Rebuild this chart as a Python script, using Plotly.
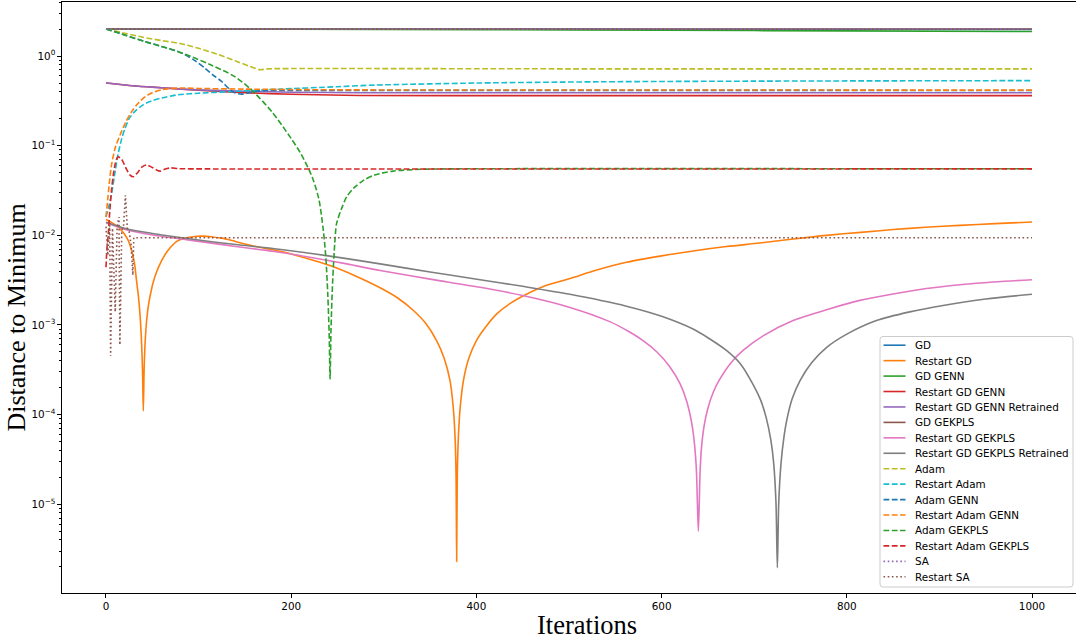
import plotly.graph_objects as go

# ---- optimisation runs: iteration index and distance to the minimum ----
gd_it = [0, 250, 500, 750, 1000]
gd_val = [2.0, 2.0, 1.995, 1.99, 1.985]

restart_gd_it = [0, 8, 15, 20, 24, 28, 31, 33, 35, 37, 38.5, 39.5, 40.3, 41.2, 42.3, 44, 46, 48,
                 51, 55, 60, 66, 71, 76, 82, 90, 98, 106, 115, 125, 135, 150, 165, 180, 200, 220,
                 242, 270, 296, 315, 332, 345, 357, 365, 371.5, 375, 377, 378, 378.7, 379.4, 380.5,
                 382.5, 386, 392, 400, 410, 422, 437, 454, 475, 501, 530, 562, 600, 634, 670, 706,
                 742, 778, 815, 850, 885, 922, 960, 1000]
restart_gd_val = [0.0150, 0.0135, 0.0119, 0.0103, 0.0088, 0.0066, 0.0047, 0.0031, 0.0021, 0.0012,
                  6.0e-4, 3.0e-4, 1.1e-4, 3.2e-4, 6.5e-4, 1.15e-3, 1.7e-3, 2.2e-3,
                  3.0e-3, 4.0e-3, 5.2e-3, 6.6e-3, 7.6e-3, 8.5e-3, 9.1e-3, 9.5e-3, 9.75e-3, 9.8e-3,
                  9.6e-3, 9.3e-3, 8.8e-3, 8.0e-3, 7.4e-3, 6.9e-3, 6.2e-3, 5.4e-3,
                  4.6e-3, 3.5e-3, 2.6e-3, 2.0e-3, 1.45e-3, 1.05e-3, 6.7e-4, 4.3e-4, 2.4e-4, 1.2e-4,
                  5.5e-5, 2.2e-5, 2.3e-6, 2.2e-5, 5.5e-5,
                  1.2e-4, 2.4e-4, 4.3e-4, 6.7e-4, 9.5e-4, 1.33e-3, 1.75e-3, 2.2e-3, 2.75e-3, 3.3e-3,
                  4.1e-3, 5.0e-3, 5.9e-3, 6.7e-3, 7.5e-3, 8.2e-3,
                  9.1e-3, 1.0e-2, 1.08e-2, 1.16e-2, 1.23e-2, 1.29e-2, 1.35e-2, 1.41e-2]

gd_genn_it = [0, 200, 400, 600, 800, 1000]
gd_genn_val = [2.0, 1.99, 1.97, 1.94, 1.91, 1.88]

restart_gd_genn_it = [0, 25, 50, 78, 100, 150, 200, 274, 400, 1000]
restart_gd_genn_val = [0.50, 0.47, 0.45, 0.43, 0.415, 0.39, 0.375, 0.363, 0.362, 0.362]

restart_gd_genn_rt_it = [0, 25, 50, 78, 100, 150, 200, 274, 400, 1000]
restart_gd_genn_rt_val = [0.50, 0.47, 0.45, 0.43, 0.42, 0.405, 0.395, 0.39, 0.39, 0.39]

gd_gekpls_it = [0, 250, 500, 750, 1000]
gd_gekpls_val = [2.0, 2.0, 2.0, 2.0, 2.0]

restart_gd_gekpls_it = [0, 25, 50, 78, 110, 140, 182, 220, 260, 296, 350, 404, 450, 501, 544, 565,
                        580, 595, 609, 620, 627, 632, 635, 637.5, 639.7, 641.5, 643, 646, 650, 656,
                        663, 675, 688, 710, 742, 780, 814, 850, 886, 940, 1000]
restart_gd_gekpls_val = [0.0138, 0.0113, 0.0101, 0.0092, 0.0083, 0.0075, 0.0066, 0.0057, 0.0048,
                         0.00405, 0.00325, 0.00263, 0.00213, 0.00157, 0.00109, 8.4e-4,
                         6.7e-4, 5.0e-4, 3.4e-4, 2.2e-4, 1.42e-4, 8.6e-5, 5.3e-5, 2.5e-5, 5.0e-6,
                         2.2e-5, 4.2e-5, 7.6e-5, 1.18e-4, 1.8e-4,
                         2.5e-4, 3.8e-4, 5.2e-4, 7.6e-4, 1.12e-3, 1.5e-3, 1.88e-3, 2.22e-3, 2.55e-3,
                         2.92e-3, 3.2e-3]

restart_gd_gekpls_rt_it = [0, 25, 50, 78, 110, 140, 182, 220, 260, 296, 350, 404, 450, 501, 562,
                           600, 634, 650, 670, 685, 699, 707, 713, 718, 721, 723.5, 725, 726.5,
                           729, 732, 735, 741, 749.5, 762, 778, 800, 832, 868, 904, 950, 1000]
restart_gd_gekpls_rt_val = [0.0140, 0.0116, 0.0105, 0.0095, 0.0086, 0.0079, 0.0071, 0.0063,
                            0.0055, 0.0048, 0.0039, 0.0032, 0.0027, 0.0022, 0.00162,
                            0.00125, 9.0e-4, 7.2e-4, 5.2e-4, 3.7e-4, 2.15e-4, 1.45e-4, 9.2e-5,
                            5.2e-5, 2.9e-5, 1.05e-5, 1.96e-6, 1.05e-5,
                            2.9e-5, 5.5e-5, 8.5e-5, 1.5e-4, 2.4e-4, 3.8e-4, 5.6e-4, 7.9e-4, 1.12e-3,
                            1.4e-3, 1.65e-3, 1.95e-3, 2.2e-3]

adam_it = [0, 20, 40, 60, 80, 100, 120, 140, 155, 166, 175, 200, 500, 1000]
adam_val = [2.0, 1.8, 1.62, 1.49, 1.38, 1.22, 1.05, 0.88, 0.77, 0.705, 0.72, 0.725, 0.72, 0.72]

restart_adam_it = [0, 3, 6, 9, 13, 17, 20.5, 25, 31, 40, 49, 60, 78, 100, 132, 186, 250, 290, 400,
                   533, 700, 1000]
restart_adam_val = [0.016, 0.021, 0.029, 0.045, 0.08, 0.12, 0.155, 0.2, 0.24, 0.285, 0.315, 0.34,
                    0.37, 0.385, 0.40, 0.427, 0.455, 0.474, 0.50, 0.516, 0.525, 0.532]

adam_genn_it = [0, 20, 42, 60, 78, 85, 96, 107, 116, 125, 133, 139, 146.5, 155, 168, 200, 1000]
adam_genn_val = [2.0, 1.72, 1.45, 1.28, 1.12, 1.04, 0.89, 0.73, 0.61, 0.52, 0.43, 0.39, 0.376,
                 0.39, 0.41, 0.413, 0.413]

restart_adam_genn_it = [0, 2, 4, 6, 10, 15, 21, 27.7, 35, 42, 50, 60, 70, 82, 100, 150, 250, 500,
                        1000]
restart_adam_genn_val = [0.016, 0.026, 0.042, 0.061, 0.095, 0.13, 0.18, 0.24, 0.30, 0.35, 0.39,
                         0.42, 0.435, 0.44, 0.435, 0.428, 0.42, 0.418, 0.417]

adam_gekpls_it = [0, 20, 42, 60, 78, 96, 114, 139, 157, 179, 200, 210, 218.5, 224, 230, 234.7,
                  237.5, 239.5, 241, 242, 243, 244.8, 247, 249, 254.5, 260, 268, 278, 290, 310,
                  340, 380, 1000]
adam_gekpls_val = [2.0, 1.72, 1.45, 1.28, 1.12, 0.95, 0.79, 0.59, 0.42, 0.24, 0.12, 0.083, 0.056,
                   0.041, 0.025, 0.0114, 0.0055, 0.0022, 8e-4, 2.5e-4, 9e-4, 3.1e-3, 8e-3, 0.0135,
                   0.020, 0.027, 0.034, 0.041, 0.047, 0.052, 0.0545, 0.0552, 0.0552]

restart_adam_gekpls_it = [0, 1, 2.5, 4, 6, 8, 10, 13, 17, 22, 26, 29.5, 34, 39, 44, 50, 58, 64, 70,
                          78, 90, 1000]
restart_adam_gekpls_val = [0.0044, 0.007, 0.0104, 0.018, 0.032, 0.048, 0.063, 0.075, 0.070, 0.055,
                           0.047, 0.045, 0.050, 0.058, 0.061, 0.057, 0.052, 0.055, 0.0565, 0.0555,
                           0.0552, 0.0552]

sa_it = [0, 250, 500, 750, 1000]
sa_val = [2.0, 2.0, 2.0, 2.0, 2.0]

restart_sa_it = [0, 2, 4, 5, 7, 9, 10, 12, 14, 15, 17, 19, 21, 23, 25, 27, 29, 30, 1000]
restart_sa_val = [0.0125, 0.006, 0.013, 4.5e-4, 0.012, 0.003, 0.0014, 0.0125, 0.016, 6e-4, 0.011,
                  0.013, 0.028, 0.012, 0.011, 0.008, 0.0036, 0.0094, 0.0094]

names = ["GD", "Restart GD", "GD GENN", "Restart GD GENN", "Restart GD GENN Retrained",
         "GD GEKPLS", "Restart GD GEKPLS", "Restart GD GEKPLS Retrained", "Adam", "Restart Adam",
         "Adam GENN", "Restart Adam GENN", "Adam GEKPLS", "Restart Adam GEKPLS", "SA", "Restart SA"]
iters = [gd_it, restart_gd_it, gd_genn_it, restart_gd_genn_it, restart_gd_genn_rt_it, gd_gekpls_it,
         restart_gd_gekpls_it, restart_gd_gekpls_rt_it, adam_it, restart_adam_it, adam_genn_it,
         restart_adam_genn_it, adam_gekpls_it, restart_adam_gekpls_it, sa_it, restart_sa_it]
values = [gd_val, restart_gd_val, gd_genn_val, restart_gd_genn_val, restart_gd_genn_rt_val,
          gd_gekpls_val, restart_gd_gekpls_val, restart_gd_gekpls_rt_val, adam_val,
          restart_adam_val, adam_genn_val, restart_adam_genn_val, adam_gekpls_val,
          restart_adam_gekpls_val, sa_val, restart_sa_val]

tab10 = ["#1f77b4", "#ff7f0e", "#2ca02c", "#d62728", "#9467bd", "#8c564b", "#e377c2", "#7f7f7f",
         "#bcbd22", "#17becf"]
styles = ["solid"] * 8 + ["dash"] * 6 + ["dot"] * 2
DASH = {"solid": "solid", "dash": "5.8px,2.5px", "dot": "1.6px,2.6px"}

x_ticks = [0, 200, 400, 600, 800, 1000]
y_ticks = [1e-5, 1e-4, 1e-3, 1e-2, 1e-1, 1e0]
y_tick_text = ["10<sup>−5</sup>", "10<sup>−4</sup>", "10<sup>−3</sup>", "10<sup>−2</sup>",
               "10<sup>−1</sup>", "10<sup>0</sup>"]
y_minor = [m * 10.0 ** e for e in range(-6, 1) for m in range(2, 10)]

W, H = 1076, 641
PL, PR, PT, PB = 62, 1076, 2, 593


def px(x):
    return (x - PL) / (PR - PL)


def py(y):
    return (PB - y) / (PB - PT)


fig = go.Figure()
for i, (nm, it, val) in enumerate(zip(names, iters, values)):
    shape = "linear" if nm == "Restart SA" else "spline"
    fig.add_trace(go.Scatter(
        x=it, y=val, mode="lines", name=nm, showlegend=False,
        line=dict(color=tab10[i % 10], width=1.6, dash=DASH[styles[i]], shape=shape,
                  smoothing=0.8),
    ))

# legend box drawn in pixel layout
shapes = []
annotations = []
lx0, lx1, ly0, ly1 = 880, 1073, 336.5, 587
r = 3
path = (f"M {px(lx0 + r)},{py(ly0)} L {px(lx1 - r)},{py(ly0)} "
        f"Q {px(lx1)},{py(ly0)} {px(lx1)},{py(ly0 + r)} L {px(lx1)},{py(ly1 - r)} "
        f"Q {px(lx1)},{py(ly1)} {px(lx1 - r)},{py(ly1)} L {px(lx0 + r)},{py(ly1)} "
        f"Q {px(lx0)},{py(ly1)} {px(lx0)},{py(ly1 - r)} L {px(lx0)},{py(ly0 + r)} "
        f"Q {px(lx0)},{py(ly0)} {px(lx0 + r)},{py(ly0)} Z")
shapes.append(dict(type="path", xref="paper", yref="paper", path=path,
                   fillcolor="rgba(255,255,255,0.8)", line=dict(color="#cccccc", width=1)))
for i, nm in enumerate(names):
    yy = 345.2 + 15.44 * i
    shapes.append(dict(type="line", xref="paper", yref="paper", x0=px(883.5), x1=px(905.5),
                       y0=py(yy), y1=py(yy),
                       line=dict(color=tab10[i % 10], width=1.6, dash=DASH[styles[i]])))
    annotations.append(dict(xref="paper", yref="paper", x=px(913), y=py(yy), text=nm,
                            showarrow=False, xanchor="left", yanchor="middle",
                            font=dict(family="DejaVu Sans", size=10.4, color="#000")))

annotations.append(dict(xref="paper", yref="paper", x=px(587), y=py(641), text="Iterations",
                        showarrow=False, xanchor="center", yanchor="bottom", borderpad=0,
                        font=dict(family="Liberation Serif", size=26.5, color="#000")))
annotations.append(dict(xref="paper", yref="paper", x=px(0), y=py(318),
                        text="Distance to Minimum", textangle=-90, borderpad=0,
                        showarrow=False, xanchor="left", yanchor="middle",
                        font=dict(family="Liberation Serif", size=26, color="#000")))

fig.update_layout(
    width=W, height=H,
    margin=dict(l=PL, r=W - PR, t=PT, b=H - PB, pad=0),
    paper_bgcolor="white", plot_bgcolor="white",
    shapes=shapes, annotations=annotations, showlegend=False,
    font=dict(family="DejaVu Sans", size=10.4, color="#000"),
)
fig.update_xaxes(
    range=[-47.5, 1047.5], tickvals=x_ticks, ticks="outside", ticklen=3.6, tickwidth=0.9,
    tickcolor="#000", showline=True, linecolor="#000", linewidth=0.9, mirror=True,
    showgrid=False, zeroline=False, tickfont=dict(family="DejaVu Sans", size=10.4, color="#000"),
)
fig.update_yaxes(
    type="log", range=[-5.99, 0.603], tickvals=y_ticks, ticktext=y_tick_text, ticks="outside",
    ticklen=3.6, tickwidth=0.9, tickcolor="#000", showline=True, linecolor="#000",
    linewidth=0.9, mirror=False, showgrid=False, zeroline=False,
    tickfont=dict(family="DejaVu Sans", size=10.4, color="#000"),
    minor=dict(tickmode="array", tickvals=y_minor, ticks="outside", ticklen=2.1, tickwidth=0.7,
               tickcolor="#000", showgrid=False),
)

fig.write_html("out.html")
